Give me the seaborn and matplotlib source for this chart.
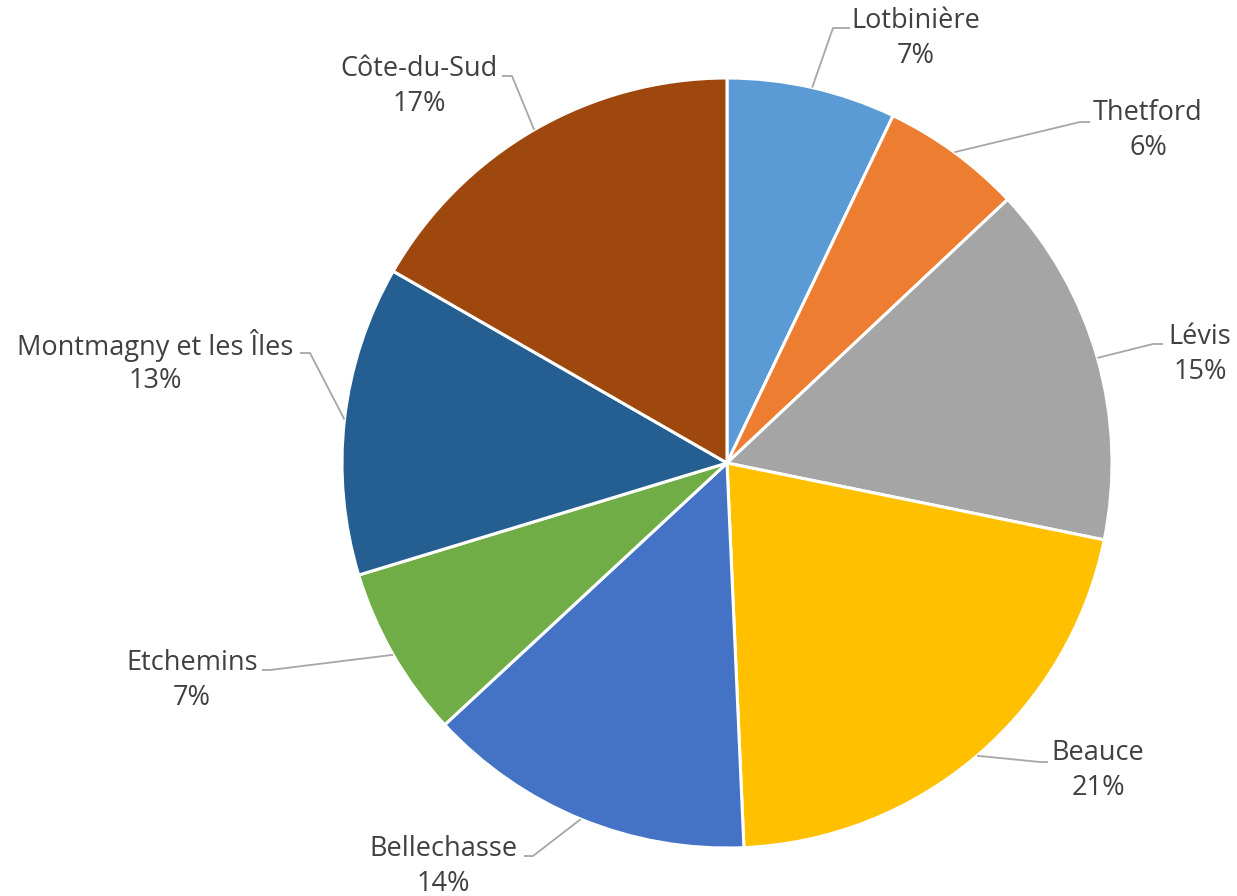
import numpy as np
import matplotlib
matplotlib.use("Agg")
import matplotlib.pyplot as plt
import seaborn as sns

regions = ["Lotbinière", "Thetford", "Lévis", "Beauce", "Bellechasse",
           "Etchemins", "Montmagny et les Îles", "Côte-du-Sud"]
shares = [7.1, 5.9, 15.2, 21.1, 13.8, 7.2, 13.0, 16.7]
pct_labels = ["7%", "6%", "15%", "21%", "14%", "7%", "13%", "17%"]
colors = ["#5B9BD5", "#ED7D31", "#A5A5A5", "#FFC000", "#4472C4",
          "#70AD47", "#255E91", "#9E480E"]

sns.set_theme(style="white")
plt.rcParams["font.family"] = ["Open Sans", "DejaVu Sans"]

W, H = 1237, 896
fig = plt.figure(figsize=(W / 100, H / 100), dpi=100)
ax = fig.add_axes([0, 0, 1, 1])

cx, cy, R = 727, 463, 385
palette = sns.color_palette(colors)

# inverted y axis: clockwise from the top means counterclock=True with startangle=-90
wedges, _ = ax.pie(shares, colors=palette, startangle=-90, counterclock=True,
                   center=(cx, cy), radius=R, frame=True,
                   wedgeprops=dict(edgecolor="white", linewidth=2.2))
ax.set_xlim(0, W)
ax.set_ylim(H, 0)
ax.set_aspect("equal")
ax.axis("off")

# label placement: (text centre x, name line y, elbow x, elbow y, end x)
layout = [
    (916, 21, 833, 28, 850),
    (1148, 113, 1080, 122, 1090),
    (1200, 337, 1153, 344, 1163),
    (1098, 753, 1040, 762, 1048),
    (443, 849, 533, 856, 524),
    (192, 663, 270, 670, 262),
    (155, 346, 310, 353, 300),
    (419, 69, 512, 76, 502),
]

text_color = "#404040"
line_color = "#A6A6A6"
for w, name, pct, (tx, ty, ex, ey, hx) in zip(wedges, regions, pct_labels, layout):
    mid = np.deg2rad((w.theta1 + w.theta2) / 2)
    sx = cx + R * np.cos(mid)
    sy = cy + R * np.sin(mid)
    ax.plot([sx, ex, hx], [sy, ey, ey], color=line_color, lw=1.3,
            solid_capstyle="butt", zorder=3)
    ax.text(tx, ty, name, ha="center", va="center", fontsize=19.5, color=text_color)
    ax.text(tx, ty + 35, pct, ha="center", va="center", fontsize=19.5, color=text_color)

fig.savefig("out.png", dpi=100, facecolor="white")
